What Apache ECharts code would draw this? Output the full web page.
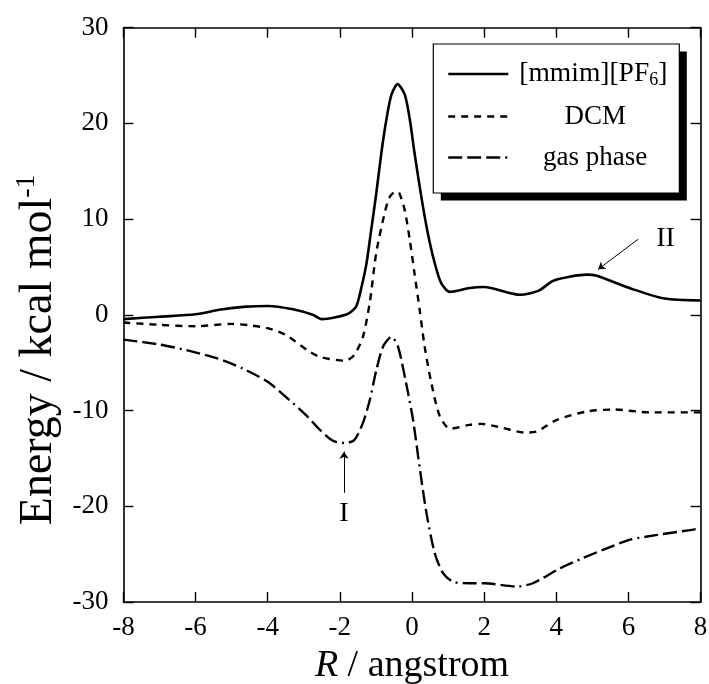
<!DOCTYPE html>
<html>
<head>
<meta charset="utf-8">
<script src="https://cdn.jsdelivr.net/npm/echarts@6/dist/echarts.min.js"></script>
<style>
html,body{margin:0;padding:0;background:#fff;}
#c{width:709px;height:684px;}
</style>
</head>
<body>
<div id="c"></div>
<script>
// ---- data ----
const xTicks = [-8, -6, -4, -2, 0, 2, 4, 6, 8];
const yTicks = [-30, -20, -10, 0, 10, 20, 30];

const ilName = '[mmim][PF6]';
const ilX = [-8, -7, -6, -5.3, -4.6, -4, -3.3, -2.75, -2.5, -1.8, -1.55, -1.4, -1.26, -1.13, -0.99, -0.85, -0.71, -0.57, -0.4, -0.2, -0.06, 0.07, 0.26, 0.44, 0.63, 0.81, 1.05, 1.6, 2.0, 3.0, 3.5, 3.95, 4.85, 5.1, 6.1, 7.0, 8];
const ilY = [-0.45, -0.2, 0.05, 0.55, 0.85, 0.92, 0.57, 0, -0.45, 0.05, 0.85, 2.9, 5.4, 8.9, 12.7, 16.9, 20.4, 23.0, 24.1, 23.0, 20.4, 16.9, 12.3, 8.5, 5.4, 3.3, 2.4, 2.8, 2.9, 2.1, 2.5, 3.6, 4.2, 4.1, 2.7, 1.7, 1.5];

const dcmName = 'DCM';
const dcmX = [-8, -7, -6, -5, -4.5, -4, -3.5, -2.9, -2.55, -1.85, -1.6, -1.36, -1.17, -0.99, -0.76, -0.62, -0.45, -0.35, -0.2, -0.06, 0.07, 0.21, 0.35, 0.54, 0.77, 1.05, 1.6, 1.9, 2.5, 3.1, 3.45, 4.0, 4.85, 5.6, 6.6, 8];
const dcmY = [-0.8, -1.05, -1.2, -0.95, -1.1, -1.4, -2.1, -3.7, -4.4, -4.8, -4.2, -2.3, 1.3, 6.5, 10.6, 12.3, 12.9, 12.7, 10.9, 7.8, 4.3, 0.6, -3.3, -7.2, -10.6, -11.9, -11.5, -11.4, -11.8, -12.3, -12.2, -11.0, -10.1, -9.9, -10.2, -10.2];

const gasName = 'gas phase';
const gasX = [-8, -7, -6.25, -5.4, -4.7, -4.0, -3.4, -2.93, -2.56, -2.2, -1.87, -1.6, -1.36, -1.17, -0.99, -0.8, -0.57, -0.39, -0.16, 0.03, 0.21, 0.4, 0.63, 0.86, 1.14, 1.6, 2.0, 2.9, 3.35, 4.1, 4.75, 5.4, 6.05, 6.8, 7.7, 8];
const gasY = [-2.6, -3.1, -3.7, -4.55, -5.6, -7.0, -8.9, -10.5, -12.0, -13.15, -13.4, -13.1, -11.3, -8.9, -5.8, -3.3, -2.3, -3.3, -7.2, -11.0, -15.9, -20.7, -24.9, -27.0, -27.9, -28.05, -28.05, -28.4, -28.05, -26.5, -25.4, -24.4, -23.5, -23.0, -22.5, -22.3];

// annotations (data coordinates)
const arrowI = [[-1.885, -18.6], [-1.885, -14.3]];
const labelI = [-1.885, -20.8];
const arrowII = [[6.27, 7.9], [5.16, 4.75]];
const labelII = [7.03, 7.97];

// ---- chart ----
const FONT = "'Liberation Serif', 'DejaVu Serif', serif";
const zip = (xs, ys) => xs.map((x, i) => [x, ys[i]]);

const axisLine = {onZero: false, lineStyle: {color: '#000', width: 1.6}};
const axisTick = {inside: true, length: 10, lineStyle: {color: '#000', width: 1.4}};

const chart = echarts.init(document.getElementById('c'), null, {renderer: 'canvas'});

const annotLine = (pts) => ({
  silent: true,
  symbol: ['none', 'arrow'],
  symbolSize: 7,
  label: {show: false},
  lineStyle: {color: '#000', width: 1, type: 'solid'},
  data: [[{coord: pts[0]}, {coord: pts[1]}]]
});
const annotText = (name, pt) => ({
  silent: true,
  symbol: 'rect',
  symbolSize: 1,
  itemStyle: {color: 'rgba(0,0,0,0)'},
  label: {show: true, position: 'inside', formatter: '{b}', color: '#000', fontFamily: FONT, fontSize: 28},
  data: [{name: name, coord: pt}]
});

const legendBase = {
  orient: 'horizontal',
  left: 447,
  padding: 0,
  itemWidth: 60,
  itemHeight: 14,
  selectedMode: false,
  itemGap: 0,
  itemStyle: {color: 'rgba(0,0,0,0)', borderWidth: 0, opacity: 0}
};

chart.setOption({
  animation: false,
  backgroundColor: '#fff',
  textStyle: {fontFamily: FONT},
  grid: {left: 123.4, right: 8.4, top: 27.7, bottom: 82.1, containLabel: false, outerBoundsMode: 'none'},
  xAxis: [{
    type: 'value', min: xTicks[0], max: xTicks[xTicks.length - 1], interval: 2,
    axisLine: axisLine, axisTick: axisTick, splitLine: {show: false},
    axisLabel: {color: '#000', fontFamily: FONT, fontSize: 27, margin: 13},
    name: '{i|R}{a| / angstrom}', nameLocation: 'middle', nameGap: 44,
    nameTextStyle: {fontFamily: FONT, rich: {
      i: {fontFamily: FONT, fontSize: 38, fontStyle: 'italic', color: '#000'},
      a: {fontFamily: FONT, fontSize: 38, color: '#000'}
    }}
  }, {
    type: 'value', position: 'top', min: xTicks[0], max: xTicks[xTicks.length - 1], interval: 2,
    axisLine: axisLine, axisTick: axisTick, splitLine: {show: false}, axisLabel: {show: false}
  }],
  yAxis: [{
    type: 'value', min: yTicks[0], max: yTicks[yTicks.length - 1], interval: 10,
    axisLine: axisLine, axisTick: axisTick, splitLine: {show: false},
    axisLabel: {color: '#000', fontFamily: FONT, fontSize: 27, margin: 15},
    name: '{a|Energy / kcal mol}{s|-1}', nameLocation: 'middle', nameGap: 58, nameRotate: 90,
    nameTextStyle: {fontFamily: FONT, padding: [0, 70, 0, 0], rich: {
      a: {fontFamily: FONT, fontSize: 46, color: '#000', lineHeight: 52},
      s: {fontFamily: FONT, fontSize: 28, color: '#000', lineHeight: 30, verticalAlign: 'top'}
    }}
  }, {
    type: 'value', position: 'right', min: yTicks[0], max: yTicks[yTicks.length - 1], interval: 10,
    axisLine: axisLine, axisTick: axisTick, splitLine: {show: false}, axisLabel: {show: false}
  }],
  graphic: [
    {type: 'rect', z: 3, silent: true, shape: {x: 440.8, y: 51.5, width: 246, height: 149}, style: {fill: '#000'}},
    {type: 'rect', z: 3, silent: true, shape: {x: 433.3, y: 44, width: 246, height: 149}, style: {fill: '#fff', stroke: '#000', lineWidth: 1.2}}
  ],
  legend: [
    Object.assign({}, legendBase, {
      top: 60, data: [ilName], z: 5,
      lineStyle: {width: 2.6},
      formatter: () => '{p|[mmim][PF}{s|6}{t|]}',
      textStyle: {fontFamily: FONT, rich: {
        p: {fontFamily: FONT, fontSize: 27.5, color: '#000', lineHeight: 30, padding: [0, 0, 0, 6]},
        t: {fontFamily: FONT, fontSize: 27.5, color: '#000', lineHeight: 30},
        s: {fontFamily: FONT, fontSize: 18, color: '#000', lineHeight: 20, verticalAlign: 'bottom'}
      }}
    }),
    Object.assign({}, legendBase, {
      top: 103, data: [dcmName], z: 5,
      lineStyle: {width: 2.4},
      formatter: (n) => '{c|' + n + '}',
      textStyle: {fontFamily: FONT, rich: {
        c: {fontFamily: FONT, fontSize: 27, color: '#000', lineHeight: 30, width: 164, align: 'center'}
      }}
    }),
    Object.assign({}, legendBase, {
      top: 144, data: [gasName], z: 5,
      lineStyle: {width: 2.4},
      formatter: (n) => '{c|' + n + '}',
      textStyle: {fontFamily: FONT, rich: {
        c: {fontFamily: FONT, fontSize: 27, color: '#000', lineHeight: 30, width: 164, align: 'center'}
      }}
    })
  ],
  series: [{
    name: ilName, type: 'line', data: zip(ilX, ilY), symbol: 'none', showSymbol: false,
    smooth: 0.25, lineStyle: {color: '#000', width: 2.6, type: 'solid'}, itemStyle: {color: '#000'},
    markLine: annotLine(arrowII), markPoint: annotText('II', labelII)
  }, {
    name: dcmName, type: 'line', data: zip(dcmX, dcmY), symbol: 'none', showSymbol: false,
    smooth: 0.25, lineStyle: {color: '#000', width: 2.4, type: [7, 6]}, itemStyle: {color: '#000'}
  }, {
    name: gasName, type: 'line', data: zip(gasX, gasY), symbol: 'none', showSymbol: false,
    smooth: 0.25, lineStyle: {color: '#000', width: 2.4, type: [14, 5, 14, 5, 14, 5, 2, 5]}, itemStyle: {color: '#000'},
    markLine: annotLine(arrowI), markPoint: annotText('I', labelI)
  }]
});
</script>
</body>
</html>
